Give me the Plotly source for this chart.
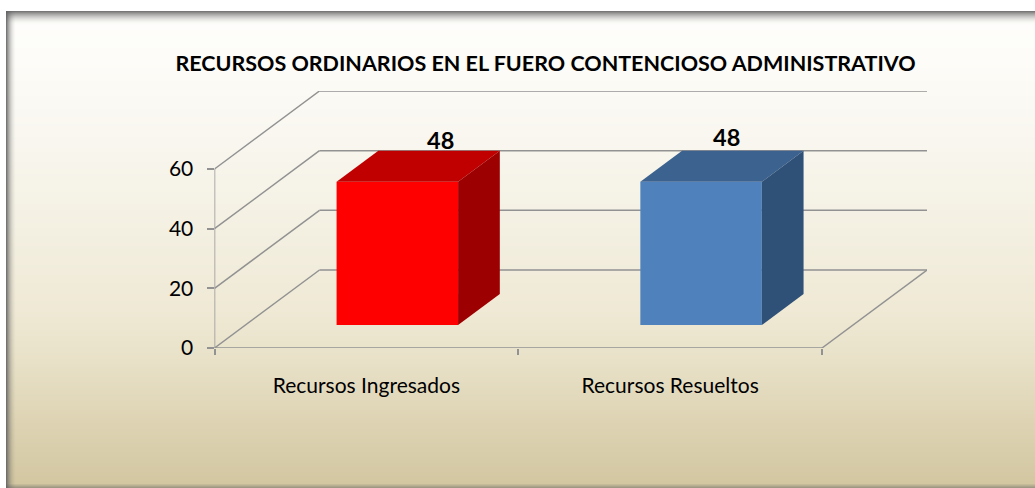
import plotly.graph_objects as go

categories = ["Recursos Ingresados", "Recursos Resueltos"]
values = [48, 48]
front_colors = ["#ff0000", "#4f81bd"]
top_colors = ["#c00000", "#3c6290"]
side_colors = ["#9c0000", "#2f5077"]
y_ticks = [0, 20, 40, 60]
x_boundaries = [-0.5, 0.5, 1.5]
value_label_shifts = [(22, 26), (5, 29)]

W, H = 1035, 488
FONT = "Lato"
GRID = "#929292"

# oblique projection of the pseudo-3D chart box, in data units
DX = 105 / 303.75          # full depth along x
DY = 78 / (179 / 60)       # full depth along y
BAR_WIDTH = 0.4
D0, D1 = 23 / 78, 54 / 78  # bar depth span inside the floor


def proj(x, y, d):
    return x + d * DX, y + d * DY


shapes = []
# page background: vertical gradient
stops = [(11, (254, 254, 252)), (60, (253, 252, 248)), (130, (249, 247, 240)), (200, (245, 242, 230)),
         (310, (239, 233, 213)), (350, (234, 227, 203)), (420, (222, 212, 180)), (488, (210, 198, 160))]


def grad(py):
    for (a, ca), (b, cb) in zip(stops, stops[1:]):
        if a <= py <= b:
            t = (py - a) / (b - a)
            return tuple(round(ca[i] + t * (cb[i] - ca[i])) for i in range(3))
    return stops[-1][1]


def prect(x0, y0, x1, y1, color):
    shapes.append(dict(type="rect", xref="paper", yref="paper", x0=x0 / W, x1=x1 / W,
                       y0=1 - y0 / H, y1=1 - y1 / H, fillcolor=color, line_width=0, layer="below"))


for py in range(11, H):
    r, g, b = grad(py)
    prect(6, py, W, py + 1, f"rgb({r},{g},{b})")
# frame inner shadow
for i in range(14):
    a = 0.85 * (1 - i / 14) ** 2
    prect(6, 11 + i, W, 12 + i, f"rgba(95,95,95,{a:.3f})")
for i in range(10):
    a = 0.85 * (1 - i / 10) ** 2
    prect(6 + i, 11, 7 + i, H, f"rgba(95,95,95,{a:.3f})")
for i in range(4):
    a = 0.45 * (1 - i / 4)
    prect(6, H - 1 - i, W, H - i, f"rgba(95,95,95,{a:.3f})")

# back wall gridlines (below the bars)
x_lo, x_hi = x_boundaries[0], x_boundaries[-1]
for t in y_ticks:
    x0, y0 = proj(x_lo, t, 1)
    x1, y1 = proj(x_hi, t, 1)
    shapes.append(dict(type="line", xref="x", yref="y", x0=x0, x1=x1, y0=y0, y1=y1,
                       line=dict(color=GRID, width=1.5), layer="below"))

fig = go.Figure()

# front faces through real bars
for i, (c, v) in enumerate(zip(categories, values)):
    xc, base = proj(i, 0, D0)
    fig.add_trace(go.Bar(x=[xc], y=[v], base=[base], width=BAR_WIDTH, name=c,
                         marker=dict(color=front_colors[i], line_width=0), showlegend=False))

# top and side faces
for i, v in enumerate(values):
    xl, xr = i - BAR_WIDTH / 2, i + BAR_WIDTH / 2
    top = [proj(xl, v, D0), proj(xr, v, D0), proj(xr, v, D1), proj(xl, v, D1), proj(xl, v, D0)]
    side = [proj(xr, 0, D0), proj(xr, v, D0), proj(xr, v, D1), proj(xr, 0, D1), proj(xr, 0, D0)]
    for pts, col in ((top, top_colors[i]), (side, side_colors[i])):
        fig.add_trace(go.Scatter(x=[p[0] for p in pts], y=[p[1] for p in pts], mode="lines",
                                 fill="toself", fillcolor=col, line=dict(width=0, color=col),
                                 showlegend=False, hoverinfo="skip"))

# left wall, floor and axis lines
segments = [[proj(x_lo, t, 0), proj(x_lo, t, 1)] for t in y_ticks]
segments.append([proj(x_lo, y_ticks[0], 0), proj(x_lo, y_ticks[-1], 0)])
segments.append([proj(x_lo, 0, 0), proj(x_hi, 0, 0)])
segments.append([proj(x_hi, 0, 0), proj(x_hi, 0, 1)])
for seg in segments:
    fig.add_trace(go.Scatter(x=[p[0] for p in seg], y=[p[1] for p in seg], mode="lines",
                             line=dict(color=GRID, width=1.5), cliponaxis=False,
                             showlegend=False, hoverinfo="skip"))

# data labels
annotations = []
for i, v in enumerate(values):
    xa, ya = proj(i, v, (D0 + D1) / 2)
    annotations.append(dict(x=xa, y=ya, xref="x", yref="y", text=f"<b>{v}</b>", showarrow=False,
                            xshift=value_label_shifts[i][0], yshift=value_label_shifts[i][1],
                            font=dict(family=FONT, size=23.5, color="black")))

fig.update_layout(
    width=W, height=H, margin=dict(l=0, r=0, t=0, b=0), autosize=False,
    paper_bgcolor="white", plot_bgcolor="rgba(0,0,0,0)",
    shapes=shapes, annotations=annotations, showlegend=False, hovermode=False,
    title=dict(text="<b>RECURSOS ORDINARIOS EN EL FUERO CONTENCIOSO ADMINISTRATIVO</b>",
               x=545.5 / W, xanchor="center", y=1 - 63 / H, yanchor="middle", xref="paper", yref="paper",
               font=dict(family=FONT, size=21.5, color="black")),
    xaxis=dict(domain=[214.5 / W, 927 / W], range=[x_lo, x_hi + DX], showgrid=False, zeroline=False,
               showline=False, tickmode="array", tickvals=[0, 1], ticktext=categories,
               ticks="outside", ticklen=19, tickcolor="rgba(0,0,0,0)", automargin=False,
               tickfont=dict(family=FONT, size=21, color="black"),
               minor=dict(tickmode="array", tickvals=x_boundaries, ticks="outside", ticklen=6,
                          tickwidth=1.5, tickcolor=GRID, showgrid=False)),
    yaxis=dict(domain=[1 - 348 / H, 1 - 91 / H], range=[0, 60 + DY], showgrid=False, zeroline=False,
               showline=False, tickmode="array", tickvals=y_ticks, ticks="outside", ticklen=7,
               tickwidth=1.5, tickcolor=GRID, ticklabelstandoff=9, automargin=False,
               tickfont=dict(family=FONT, size=21, color="black")),
)

fig.write_html("out.html", config={"displayModeBar": False},
               post_script="document.body.style.margin='0';document.body.style.overflow='hidden';")
